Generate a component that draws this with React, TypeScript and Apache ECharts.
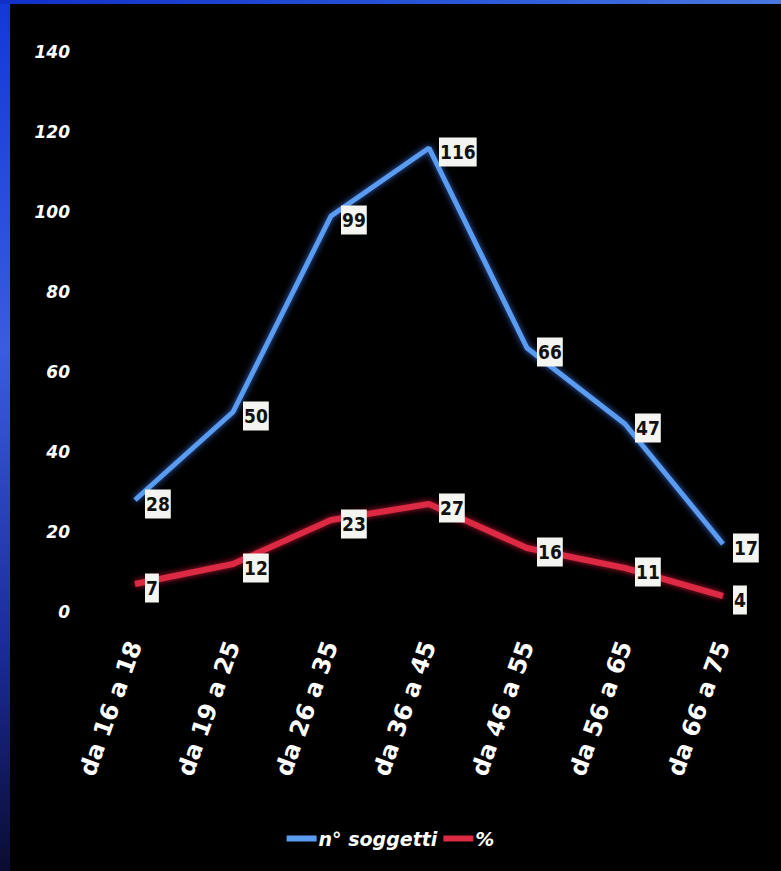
import React, { useEffect, useRef } from "react";
import * as echarts from "echarts";

const categories = ["da 16 a 18", "da 19 a 25", "da 26 a 35", "da 36 a 45", "da 46 a 55", "da 56 a 65", "da 66 a 75"];
const soggetti = [28, 50, 99, 116, 66, 47, 17];
const percent = [7, 12, 23, 27, 16, 11, 4];
const seriesNames = ["n° soggetti", "%"];

const labelFont = "'Liberation Sans Narrow', 'DejaVu Sans Condensed', 'Liberation Sans', sans-serif";

export default function App() {
  const ref = useRef<HTMLDivElement>(null);
  useEffect(() => {
    if (!ref.current) return;
    const chart = echarts.init(ref.current, null, { renderer: "svg" });
    const dataLabel = {
      show: true,
      position: "right",
      distance: 10,
      offset: [0, 4],
      color: "#111",
      backgroundColor: "#f4f4f0",
      fontFamily: labelFont,
      fontWeight: "bold",
      fontSize: 19,
      lineHeight: 20,
      padding: [5, 1, 4, 1],
    };
    chart.setOption({
      animation: false,
      backgroundColor: "#000",
      graphic: [
        {
          type: "rect",
          shape: { x: 0, y: 0, width: 10, height: 871 },
          style: {
            fill: new echarts.graphic.LinearGradient(0, 0, 0, 1, [
              { offset: 0, color: "#1238d8" },
              { offset: 0.4, color: "#3a5ce0" },
              { offset: 0.75, color: "#1a2a98" },
              { offset: 1, color: "#0a0c30" },
            ]),
          },
          silent: true,
        },
        {
          type: "rect",
          shape: { x: 0, y: 0, width: 781, height: 4 },
          style: {
            fill: new echarts.graphic.LinearGradient(0, 0, 1, 0, [
              { offset: 0, color: "#1030c8" },
              { offset: 0.6, color: "#2a58d8" },
              { offset: 1, color: "#4a78e0" },
            ]),
          },
          silent: true,
        },
      ],
      grid: { left: 86, right: 9, top: 52, bottom: 259, containLabel: false },
      legend: {
        data: seriesNames,
        bottom: 18,
        left: "center",
        icon: "rect",
        itemWidth: 30,
        itemHeight: 6,
        itemGap: 6,
        textStyle: {
          color: "#fff",
          fontStyle: "italic",
          fontWeight: "bold",
          fontSize: 19,
          fontFamily: "'DejaVu Sans', sans-serif",
          padding: [0, 0, 0, -3],
        },
      },
      xAxis: {
        type: "category",
        data: categories,
        boundaryGap: true,
        axisLine: { show: false },
        axisTick: { show: false },
        axisLabel: {
          rotate: 70,
          margin: 30,
          color: "#fff",
          fontWeight: "bold",
          fontSize: 24,
          fontFamily: "'DejaVu Sans', sans-serif",
          interval: 0,
        },
      },
      yAxis: {
        type: "value",
        min: 0,
        max: 140,
        interval: 20,
        splitLine: { show: false },
        axisLine: { show: false },
        axisTick: { show: false },
        axisLabel: {
          margin: 16,
          color: "#fff",
          fontWeight: "bold",
          fontStyle: "italic",
          fontSize: 17,
          fontFamily: "'DejaVu Sans', sans-serif",
        },
      },
      series: [
        {
          name: seriesNames[0],
          type: "line",
          data: soggetti,
          symbol: "circle",
          symbolSize: 0,
          showSymbol: true,
          color: "#5a9cf0",
          lineStyle: { width: 5, color: "#5a9cf0", shadowColor: "rgba(70,130,255,0.8)", shadowBlur: 6 },
          label: dataLabel,
          z: 3,
        },
        {
          name: seriesNames[1],
          type: "line",
          data: percent,
          symbol: "circle",
          symbolSize: 0,
          showSymbol: true,
          color: "#dc2a44",
          lineStyle: { width: 6, color: "#dc2a44", shadowColor: "rgba(230,30,60,0.8)", shadowBlur: 6 },
          label: dataLabel,
          z: 2,
        },
      ],
    });
    return () => chart.dispose();
  }, []);
  return <div ref={ref} style={{ position: "absolute", left: 0, top: 0, width: 781, height: 871 }} />;
}
